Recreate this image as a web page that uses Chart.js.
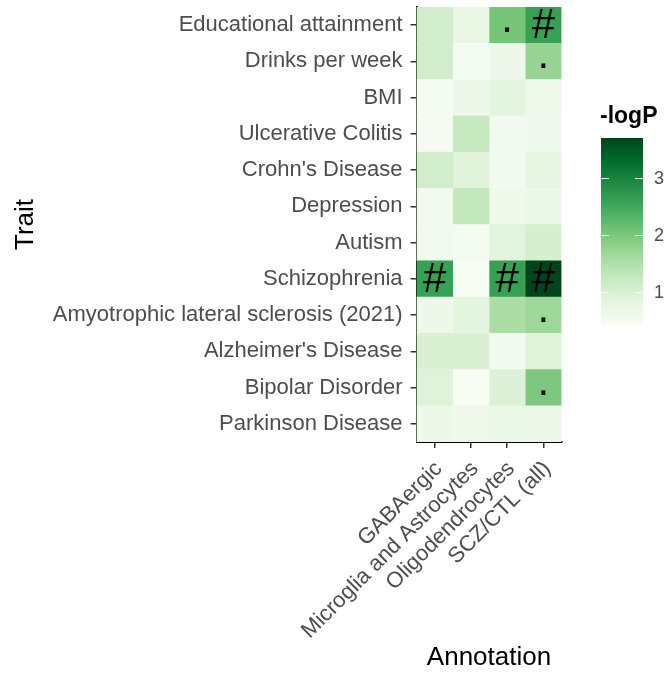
<!DOCTYPE html>
<html>
<head>
<meta charset="utf-8">
<script src="https://cdn.jsdelivr.net/npm/chart.js@4/dist/chart.umd.min.js"></script>
<style>
  html, body { margin: 0; padding: 0; background: #ffffff; }
  canvas { display: block; }
</style>
</head>
<body>
<canvas id="heat" width="667" height="673"></canvas>
<script>
// Traits (rows, top to bottom) and annotations (columns, left to right)
const traits = [
  'Educational attainment',
  'Drinks per week',
  'BMI',
  'Ulcerative Colitis',
  "Crohn's Disease",
  'Depression',
  'Autism',
  'Schizophrenia',
  'Amyotrophic lateral sclerosis (2021)',
  "Alzheimer's Disease",
  'Bipolar Disorder',
  'Parkinson Disease'
];
const annotations = ['GABAergic', 'Microglia and Astrocytes', 'Oligodendrocytes', 'SCZ/CTL (all)'];

// -logP per trait, one array per annotation
const gabaergic      = [1.10, 1.10, 0.50, 0.48, 1.10, 0.55, 0.55, 2.62, 0.65, 1.00, 0.92, 0.66];
const microgliaAstro = [0.78, 0.50, 0.65, 1.25, 0.90, 1.28, 0.50, 0.43, 0.85, 1.00, 0.43, 0.60];
const oligodendro    = [2.05, 0.65, 0.85, 0.55, 0.52, 0.60, 0.88, 2.62, 1.55, 0.52, 0.96, 0.68];
const sczCtlAll      = [2.62, 1.75, 0.62, 0.58, 0.82, 0.68, 1.05, 3.70, 1.68, 0.92, 1.98, 0.66];

// Significance markers per trait, one array per annotation
const gabaergicSig      = ['', '', '', '', '', '', '', '#', '', '', '', ''];
const microgliaAstroSig = ['', '', '', '', '', '', '', '', '', '', '', ''];
const oligodendroSig    = ['.', '', '', '', '', '', '', '#', '', '', '', ''];
const sczCtlAllSig      = ['#', '.', '', '', '', '', '', '#', '.', '', '.', ''];

// Colour bar tick labels
const legendTicks = [1, 2, 3];

const columns = [gabaergic, microgliaAstro, oligodendro, sczCtlAll];
const marks = [gabaergicSig, microgliaAstroSig, oligodendroSig, sczCtlAllSig];

const FONT = '"Liberation Sans", Arial, Helvetica, sans-serif';
const GREENS = ['#f7fcf5', '#e5f5e0', '#c7e9c0', '#a1d99b', '#74c476', '#41ab5d', '#238b45', '#006d2c', '#00441b'];

const allVals = columns.flat();
const vMin = Math.min(...allVals);
const vMax = Math.max(...allVals);

function hexToRgb(h) {
  const n = parseInt(h.slice(1), 16);
  return [(n >> 16) & 255, (n >> 8) & 255, n & 255];
}
const GREENS_RGB = GREENS.map(hexToRgb);

function fillFor(v) {
  let t = (v - vMin) / (vMax - vMin);
  t = Math.max(0, Math.min(1, t));
  const pos = t * (GREENS_RGB.length - 1);
  const i = Math.min(Math.floor(pos), GREENS_RGB.length - 2);
  const f = pos - i;
  const a = GREENS_RGB[i], b = GREENS_RGB[i + 1];
  const c = a.map((x, k) => Math.round(x + (b[k] - x) * f));
  return `rgb(${c[0]},${c[1]},${c[2]})`;
}

// Each annotation is drawn as one floating bar per trait spanning its column
const datasets = columns.map((vals, ci) => ({
  label: annotations[ci],
  data: vals.map(() => [ci, ci + 1]),
  backgroundColor: vals.map(fillFor),
  borderWidth: 0,
  barPercentage: 1,
  categoryPercentage: 1,
  grouped: false
}));

// Draws '#' and '.' markers in the cells
const markerPlugin = {
  id: 'markers',
  afterDatasetsDraw(chart) {
    const ctx = chart.ctx;
    ctx.save();
    ctx.fillStyle = '#000000';
    ctx.font = `42px ${FONT}`;
    ctx.textAlign = 'center';
    chart.data.datasets.forEach((ds, ci) => {
      const meta = chart.getDatasetMeta(ci);
      meta.data.forEach((bar, ri) => {
        const m = marks[ci][ri];
        if (!m) return;
        const cx = (bar.x + bar.base) / 2;
        const cy = bar.y;
        if (m === '#') {
          ctx.textBaseline = 'middle';
          ctx.fillText('#', cx, cy + 1.5);
        } else {
          ctx.textBaseline = 'alphabetic';
          ctx.fillText('.', cx, cy + 7);
        }
      });
    });
    ctx.restore();
  }
};

// Colour bar legend on the right
const colorbarPlugin = {
  id: 'colorbar',
  afterDraw(chart) {
    const ctx = chart.ctx;
    const x0 = 601, w = 42, top = 138, bottom = 325;
    const valToY = v => bottom - (v - vMin) / (vMax - vMin) * (bottom - top);
    ctx.save();
    for (let y = top; y < bottom; y++) {
      const v = vMin + (bottom - (y + 0.5)) / (bottom - top) * (vMax - vMin);
      ctx.fillStyle = fillFor(v);
      ctx.fillRect(x0, y, w, 1);
    }
    ctx.strokeStyle = 'rgba(255,255,255,0.9)';
    ctx.lineWidth = 1;
    ctx.fillStyle = '#4d4d4d';
    ctx.font = `18px ${FONT}`;
    ctx.textAlign = 'left';
    ctx.textBaseline = 'middle';
    legendTicks.forEach(t => {
      const y = Math.round(valToY(t)) + 0.5;
      ctx.beginPath();
      ctx.moveTo(x0, y); ctx.lineTo(x0 + 8, y);
      ctx.moveTo(x0 + w - 8, y); ctx.lineTo(x0 + w, y);
      ctx.stroke();
      ctx.fillText(String(t), 654, y + 1);
    });
    ctx.fillStyle = '#000000';
    ctx.font = `bold 23px ${FONT}`;
    ctx.textBaseline = 'alphabetic';
    ctx.fillText('-logP', 600, 123);
    ctx.restore();
  }
};

new Chart(document.getElementById('heat'), {
  type: 'bar',
  data: { labels: traits, datasets },
  options: {
    indexAxis: 'y',
    responsive: false,
    animation: false,
    events: [],
    layout: { padding: { left: 0, right: 105.5, top: 7, bottom: 0 } },
    plugins: {
      legend: { display: false },
      tooltip: { enabled: false },
      title: { display: false }
    },
    scales: {
      y: {
        type: 'category',
        offset: true,
        grid: {
          display: true, drawOnChartArea: false, offset: false,
          tickLength: 6, color: '#333333', lineWidth: 1.5
        },
        border: { display: true, color: '#000000', width: 2 },
        ticks: {
          autoSkip: false, color: '#4d4d4d', padding: 8,
          font: { family: FONT, size: 22 }
        },
        title: {
          display: true, text: 'Trait', color: '#000000',
          font: { family: FONT, size: 26 },
          padding: { top: 10, bottom: 0 }
        },
        afterFit(scale) {
          scale.width = 416.5;
          scale.paddingTop = 0;
          scale.paddingBottom = 0;
        }
      },
      x: {
        type: 'linear',
        min: 0,
        max: annotations.length,
        grid: {
          display: true, drawOnChartArea: false,
          tickLength: 6, color: '#333333', lineWidth: 1.5
        },
        border: { display: true, color: '#000000', width: 2 },
        afterBuildTicks(scale) {
          scale.ticks = annotations.map((_, i) => ({ value: i + 0.5 }));
        },
        ticks: {
          autoSkip: false, minRotation: 45, maxRotation: 45,
          color: '#4d4d4d', padding: 8, labelOffset: 4,
          font: { family: FONT, size: 22 },
          callback: (value, index) => annotations[index]
        },
        title: {
          display: true, text: 'Annotation', color: '#000000',
          font: { family: FONT, size: 26 },
          padding: { top: 0, bottom: 0 }
        },
        afterFit(scale) {
          scale.height = 231;
          scale.paddingRight = 0;
        }
      }
    }
  },
  plugins: [markerPlugin, colorbarPlugin]
});
</script>
</body>
</html>
